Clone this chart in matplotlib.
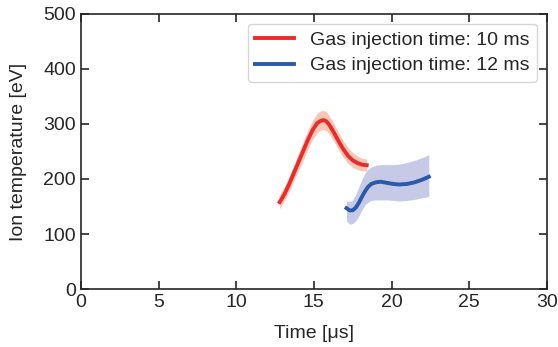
import matplotlib
matplotlib.use("Agg")
import matplotlib.pyplot as plt
import numpy as np

plt.rcParams['font.family'] = ['Liberation Sans', 'DejaVu Sans']

# Gas injection time: 10 ms
t10 = [12.8, 13.1, 13.4, 13.7, 14.0, 14.3, 14.6, 14.9, 15.2, 15.4, 15.6, 15.8, 16.0, 16.3, 16.6, 16.9, 17.2, 17.5, 17.8, 18.1, 18.4]
T10 = [158, 172, 190, 210, 230, 250, 270, 288, 301, 305, 307, 305, 298, 284, 268, 254, 242, 234, 229, 226, 225]
T10_lo = [146, 160, 177, 196, 215, 234, 253, 271, 284, 288, 290, 288, 281, 268, 252, 239, 228, 221, 217, 215, 214]
T10_hi = [172, 186, 204, 225, 246, 267, 288, 306, 319, 323, 325, 322, 315, 300, 284, 269, 257, 248, 242, 238, 236]

# Gas injection time: 12 ms
t12 = [17.1, 17.3, 17.5, 17.7, 17.9, 18.1, 18.3, 18.5, 18.7, 19.0, 19.3, 19.7, 20.1, 20.5, 21.0, 21.5, 22.0, 22.4]
T12 = [147, 143, 143, 148, 157, 168, 178, 186, 191, 194, 195, 193, 191, 190, 191, 194, 199, 204]
T12_lo = [124, 118, 119, 124, 133, 144, 153, 158, 161, 162, 162, 162, 161, 160, 161, 163, 166, 168]
T12_hi = [160, 159, 162, 172, 186, 200, 211, 218, 222, 225, 226, 226, 226, 227, 230, 234, 239, 244]

red = '#ed2a2a'
blue = '#2a5aa8'

fig = plt.figure(figsize=(5.58, 3.47), dpi=100)
ax = fig.add_axes([0.145, 0.167, 0.835, 0.793])

ax.fill_between(t10, T10_lo, T10_hi, color='#f7c2ae', alpha=0.9, lw=0)
ax.fill_between(t12, T12_lo, T12_hi, color='#c3c7e6', alpha=0.95, lw=0)
ax.plot(t10, T10, color=red, lw=2.8, label='Gas injection time: 10 ms')
ax.plot(t12, T12, color=blue, lw=2.8, label='Gas injection time: 12 ms')

ax.set_xlim(0, 30)
ax.set_ylim(0, 500)
ax.set_xticks([0, 5, 10, 15, 20, 25, 30])
ax.set_yticks([0, 100, 200, 300, 400, 500])
ax.tick_params(direction='in', top=True, right=True, length=6, width=1.2,
               labelsize=14, colors='#262626', labelcolor='#262626')
for s in ax.spines.values():
    s.set_linewidth(1.2)
    s.set_color('#262626')
ax.set_xlabel('Time [μs]', fontsize=14, color='#262626', labelpad=10)
ax.set_ylabel('Ion temperature [eV]', fontsize=14, color='#262626', labelpad=12)
leg = ax.legend(loc='upper right', fontsize=14, frameon=True, handlelength=2, borderpad=0.4,
                labelspacing=0.4, edgecolor='#cccccc')
for txt in leg.get_texts():
    txt.set_color('#262626')

fig.savefig('out.png', dpi=100)
